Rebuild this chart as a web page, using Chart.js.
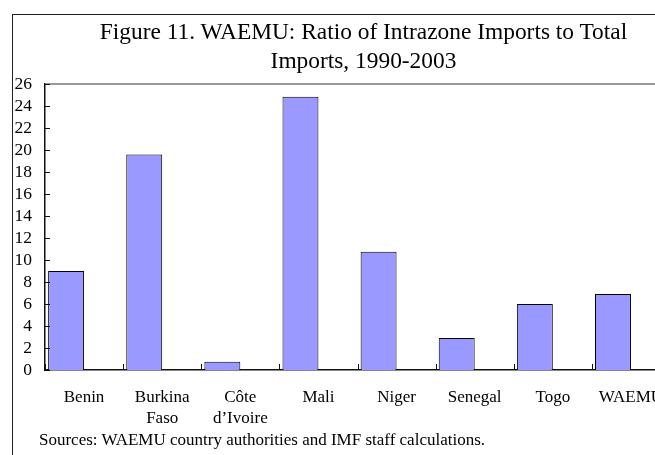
<!DOCTYPE html>
<html>
<head>
<meta charset="utf-8">
<script src="https://cdn.jsdelivr.net/npm/chart.js@4"></script>
<style>
    html, body { margin: 0; padding: 0; background: #fff; overflow: hidden; width: 655px; height: 455px; }
    #frame { position: absolute; left: 12px; top: 14px; width: 760px; height: 500px; border-left: 1px solid #222; border-top: 1px solid #222; }
    #wrap { position: absolute; left: 0; top: 0; width: 706px; height: 441px; }
    #title { position: absolute; left: 0; width: 727px; top: 17px; text-align: center; font: 23.4px/29px "Liberation Serif", "Times New Roman", serif; color: #000; }
    #sources { position: absolute; left: 39px; top: 431px; font: 17px/17px "Liberation Serif", "Times New Roman", serif; color: #000; white-space: nowrap; }
</style>
</head>
<body>
<div id="frame">
    <div id="wrap"><canvas id="myChart"></canvas></div>
</div>
<div id="title"></div>
<div id="sources">Sources: WAEMU country authorities and IMF staff calculations.</div>
<script>
// Chart data
const categories = ['Benin', ['Burkina', 'Faso'], ['Côte', 'd’Ivoire'], 'Mali', 'Niger', 'Senegal', 'Togo', 'WAEMU'];
const ratios = [9.0, 19.6, 0.75, 24.85, 10.75, 2.9, 6.0, 6.9];
const yTicks = [0, 2, 4, 6, 8, 10, 12, 14, 16, 18, 20, 22, 24, 26];
const titleLines = ['Figure 11. WAEMU: Ratio of Intrazone Imports to Total', 'Imports, 1990-2003'];

// empty second series so bars sit on the left half of each slot, like the original
const spacer = categories.map(() => null);

const serif = '"Liberation Serif", "Times New Roman", serif';

// Small inward tick marks plus the grey top border of the plot
const frameTicks = {
    id: 'frameTicks',
    afterDatasetsDraw(chart) {
        const { ctx, chartArea, scales } = chart;
        ctx.save();
        ctx.strokeStyle = '#777';
        ctx.lineWidth = 1.5;
        ctx.beginPath();
        ctx.moveTo(chartArea.left, chartArea.top);
        ctx.lineTo(chartArea.right, chartArea.top);
        ctx.stroke();

        ctx.strokeStyle = '#111';
        ctx.lineWidth = 1;
        ctx.beginPath();
        yTicks.forEach(v => {
            const y = Math.round(scales.y.getPixelForValue(v)) + 0.5;
            ctx.moveTo(chartArea.left, y);
            ctx.lineTo(chartArea.left + 5, y);
        });
        for (let i = 0; i <= categories.length; i++) {
            const x = Math.round(scales.x.getPixelForValue(i - 0.5)) + 0.5;
            ctx.moveTo(x, chartArea.bottom);
            ctx.lineTo(x, chartArea.bottom - 6);
        }
        ctx.stroke();
        ctx.restore();
    }
};

function init() {
    document.getElementById('title').innerHTML = titleLines.join('<br>');

    new Chart(document.getElementById('myChart'), {
        type: 'bar',
        data: {
            labels: categories,
            datasets: [{
                data: ratios,
                backgroundColor: '#9999FF',
                borderColor: '#000',
                borderWidth: 1,
                categoryPercentage: 0.92,
                barPercentage: 1.0
            }, {
                data: spacer,
                categoryPercentage: 0.92,
                barPercentage: 1.0
            }]
        },
        options: {
            responsive: true,
            maintainAspectRatio: false,
            animation: false,
            events: [],
            layout: { padding: { left: 2, right: 49, top: 69, bottom: 29 } },
            plugins: {
                legend: { display: false },
                tooltip: { enabled: false },
                title: { display: false }
            },
            scales: {
                x: {
                    afterFit: axis => { axis.height = 57; },
                    grid: { display: false, drawTicks: false },
                    border: { display: true, color: '#111', width: 1.5 },
                    ticks: {
                        color: '#000',
                        font: { family: serif, size: 17, lineHeight: 1.22 },
                        padding: 17.5,
                        maxRotation: 0,
                        autoSkip: false
                    }
                },
                y: {
                    min: 0,
                    max: 26,
                    afterBuildTicks: axis => { axis.ticks = yTicks.map(v => ({ value: v })); },
                    afterFit: axis => { axis.width = 30; },
                    grid: { display: false, drawTicks: false },
                    border: { display: true, color: '#111', width: 1.5 },
                    ticks: {
                        color: '#000',
                        font: { family: serif, size: 17.5 },
                        padding: 13,
                        autoSkip: false
                    }
                }
            }
        },
        plugins: [frameTicks]
    });
}

window.onload = init;
</script>
</body>
</html>
